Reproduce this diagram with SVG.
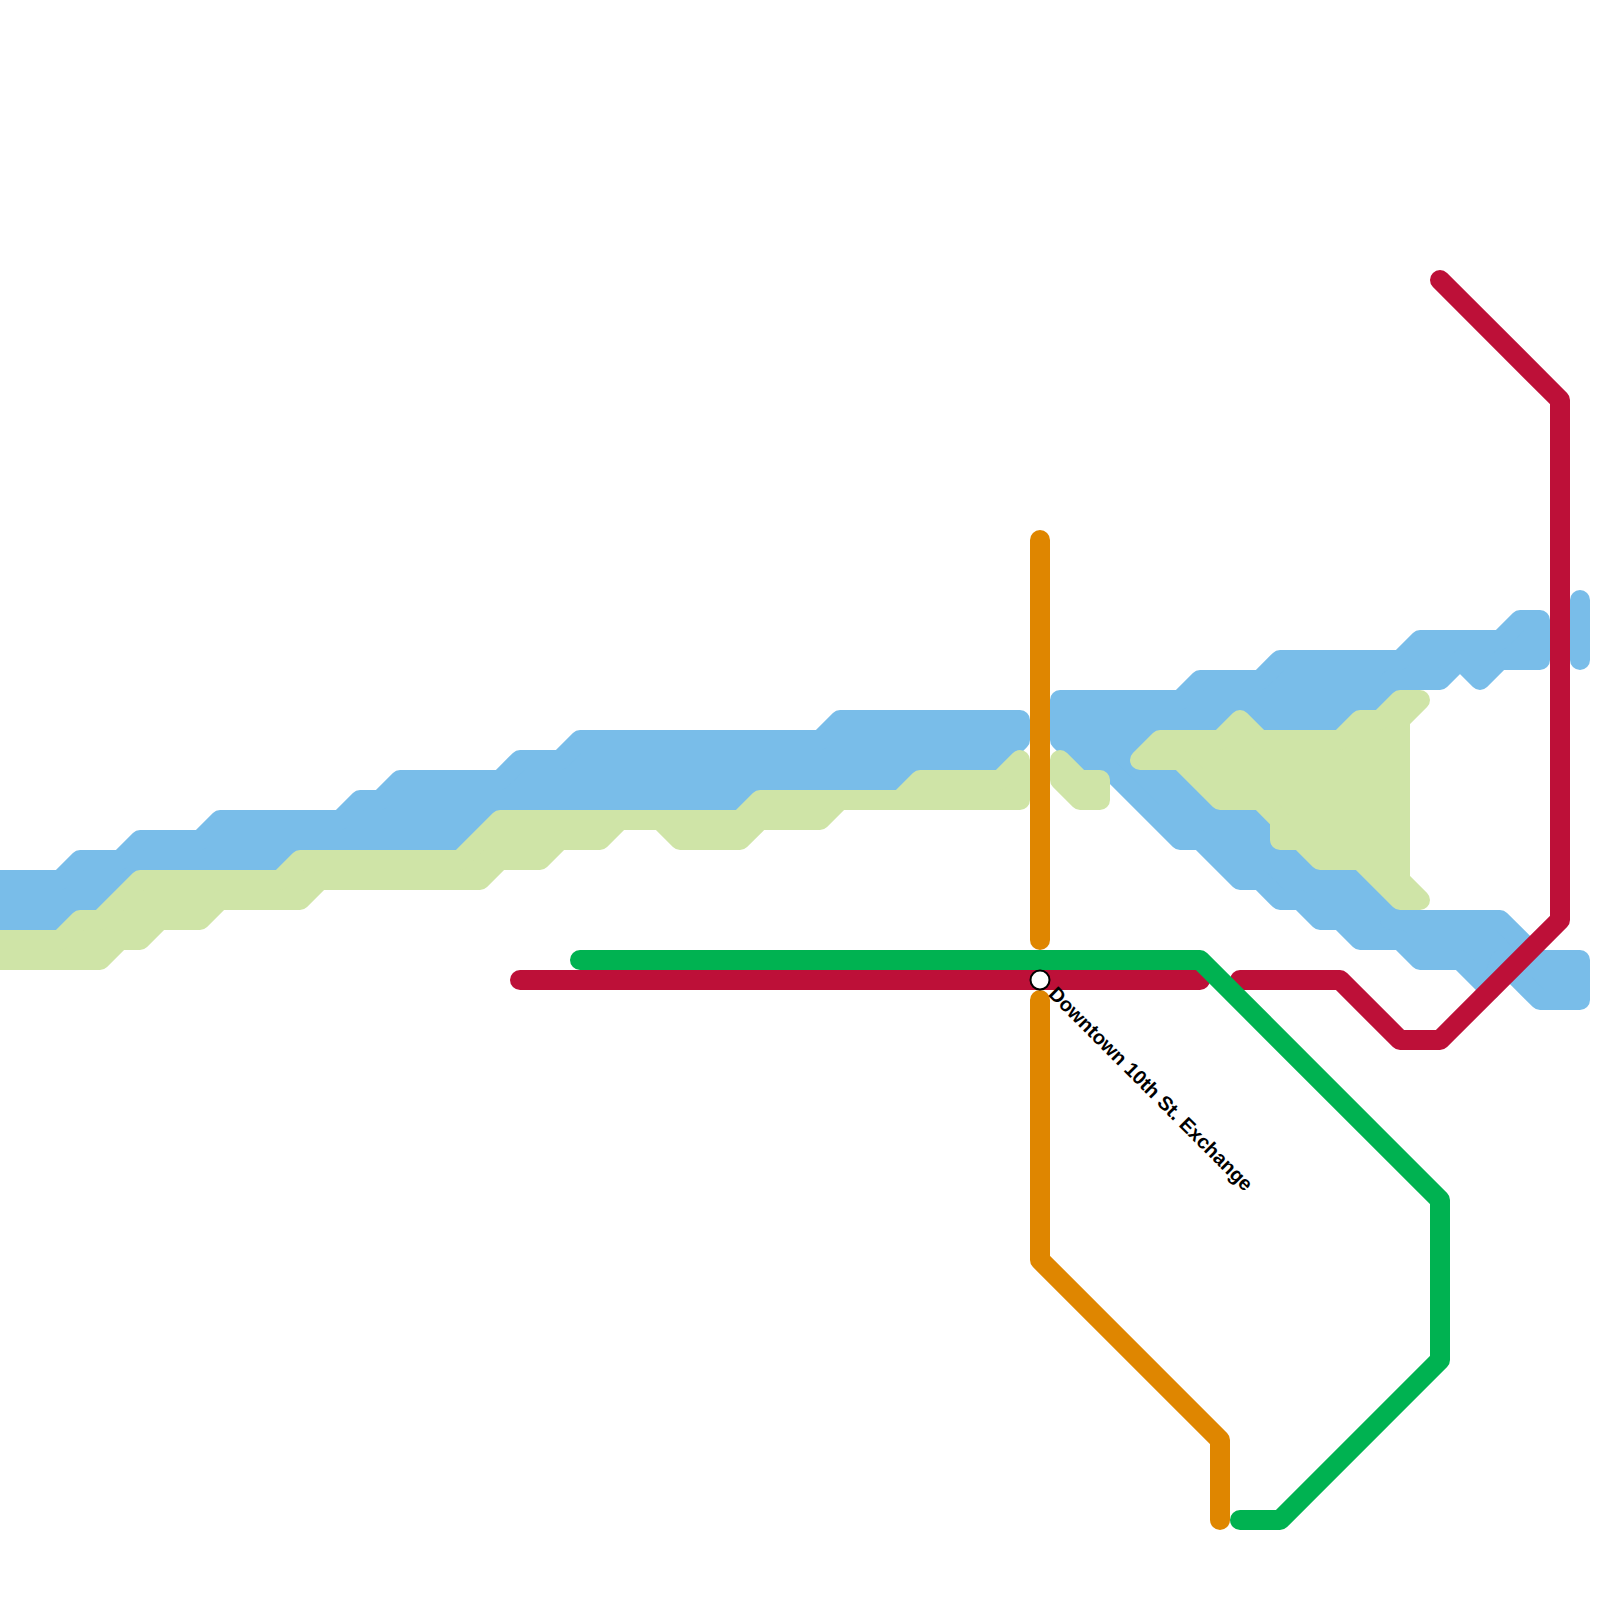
<svg xmlns="http://www.w3.org/2000/svg" width="1600" height="1600" viewBox="0 0 1600 1600">
<style>
.ln{fill:none;stroke-width:20;stroke-linejoin:round;stroke-linecap:round}
.blue{fill:#79bde9;stroke:#79bde9;stroke-width:20;stroke-linejoin:round}
.lime{fill:#cfe4a7;stroke:#cfe4a7;stroke-width:20;stroke-linejoin:round}
.orange{stroke:#df8600}.red{stroke:#bd1038}.green{stroke:#00b251}
.label{font-family:"Liberation Sans",Arial,sans-serif;font-size:20px;font-weight:700;fill:#000}
</style>
<rect width="1600" height="1600" fill="#fff"/>
<g id="connectors">
<g id="line-blue">
<polygon class="blue" points="-20,880 60,880 80,860 120,860 140,840 200,840 220,820 340,820 360,800 380,800 400,780 500,780 520,760 560,760 580,740 820,740 840,720 1020,720 1020,740 1000,760 1000,780 920,780 900,800 760,800 740,820 500,820 460,860 300,860 280,880 140,880 100,920 80,920 60,940 -20,940"/>
<polygon class="blue" points="1060,700 1180,700 1200,680 1260,680 1280,660 1400,660 1420,640 1500,640 1520,620 1540,620 1540,660 1500,660 1480,680 1460,660 1440,680 1390,680 1390,920 1500,920 1540,960 1580,960 1580,1000 1540,1000 1500,960 1490,990 1460,960 1420,960 1400,940 1360,940 1340,920 1320,920 1300,900 1280,900 1260,880 1240,880 1200,840 1180,840 1100,760 1080,760 1060,740"/>
<path class="ln" style="stroke:#79bde9" d="M1580,600V660"/>
</g>
<g id="line-lime">
<polygon class="lime" points="-20,940 60,940 80,920 100,920 140,880 280,880 300,860 460,860 500,820 740,820 760,800 900,800 920,780 1000,780 1020,760 1020,800 840,800 820,820 760,820 740,840 680,840 660,820 620,820 600,840 560,840 540,860 500,860 480,880 320,880 300,900 220,900 200,920 160,920 140,940 120,940 100,960 -20,960"/>
<polygon class="lime" points="1060,760 1080,780 1100,780 1100,800 1080,800 1060,780"/>
<polygon class="lime" points="1140,760 1160,740 1220,740 1240,720 1260,740 1340,740 1360,720 1380,720 1400,700 1420,700 1400,720 1400,880 1420,900 1400,900 1360,860 1320,860 1300,840 1280,840 1280,820 1260,800 1220,800 1180,760"/>
</g>
<g id="line-red">
<path class="ln red" d="M520,980H1200"/>
<path class="ln red" d="M1240,980H1340L1400,1040H1440L1560,920V400L1440,280"/>
</g>
<g id="line-green">
<path class="ln green" d="M580,960H1200L1440,1200V1360L1280,1520H1240"/>
</g>
<g id="line-orange">
<path class="ln orange" d="M1040,540V940"/>
<path class="ln orange" d="M1040,1000V1260L1220,1440V1520"/>
</g>
</g>
<g id="station-downtown">
<circle cx="1040" cy="980" r="9.5" fill="#fff" stroke="#000" stroke-width="2"/>
<text class="label" transform="translate(1047.5,995) rotate(45)">Downtown 10th St. Exchange</text>
</g>
</svg>
